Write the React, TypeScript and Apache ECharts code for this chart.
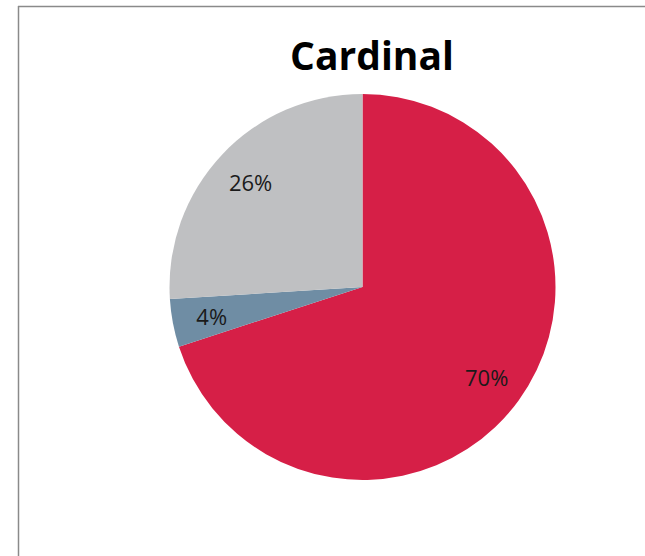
import React, { useEffect, useRef } from "react";
import * as echarts from "echarts";

const titleText = "Cardinal";
const categories = ["Red", "Blue", "Gray"];
const values = [70, 4, 26];
const colors = ["#D61F47", "#6F8DA4", "#BFC0C2"];

export default function App() {
  const ref = useRef<HTMLDivElement>(null);
  useEffect(() => {
    if (!ref.current) return;
    const chart = echarts.init(ref.current, null, { renderer: "svg" });
    const data = categories.map((name, i) => ({
      name,
      value: values[i],
      itemStyle: { color: colors[i] },
    }));
    chart.setOption({
      animation: false,
      backgroundColor: "#ffffff",
      title: {
        text: titleText,
        left: 367,
        top: 30,
        textAlign: "center",
        textStyle: {
          fontFamily: "Open Sans",
          fontWeight: "bold",
          fontSize: 39,
          color: "#000000",
        },
      },
      graphic: [
        {
          type: "line",
          shape: { x1: 18, y1: 6.5, x2: 645, y2: 6.5 },
          style: { stroke: "#8a8a8a", lineWidth: 1.5 },
          silent: true,
        },
        {
          type: "line",
          shape: { x1: 18.5, y1: 6, x2: 18.5, y2: 556 },
          style: { stroke: "#8a8a8a", lineWidth: 1.5 },
          silent: true,
        },
      ],
      series: [
        {
          type: "pie",
          center: [362.5, 287],
          radius: [0, 193],
          startAngle: 90,
          clockwise: true,
          label: { show: false },
          labelLine: { show: false },
          emphasis: { disabled: true },
          data,
        },
        {
          type: "pie",
          center: [362.5, 287],
          radius: [108, 193],
          startAngle: 90,
          clockwise: true,
          silent: true,
          itemStyle: { color: "transparent" },
          label: {
            show: true,
            position: "inside",
            formatter: "{c}%",
            fontFamily: "Open Sans",
            fontSize: 22,
            color: "#1a1a1a",
          },
          labelLine: { show: false },
          emphasis: { disabled: true },
          data: categories.map((name, i) => ({ name, value: values[i] })),
        },
      ],
    });
    return () => chart.dispose();
  }, []);
  return (
    <div
      ref={ref}
      style={{ position: "fixed", left: 0, top: 0, width: 645, height: 556 }}
    />
  );
}
